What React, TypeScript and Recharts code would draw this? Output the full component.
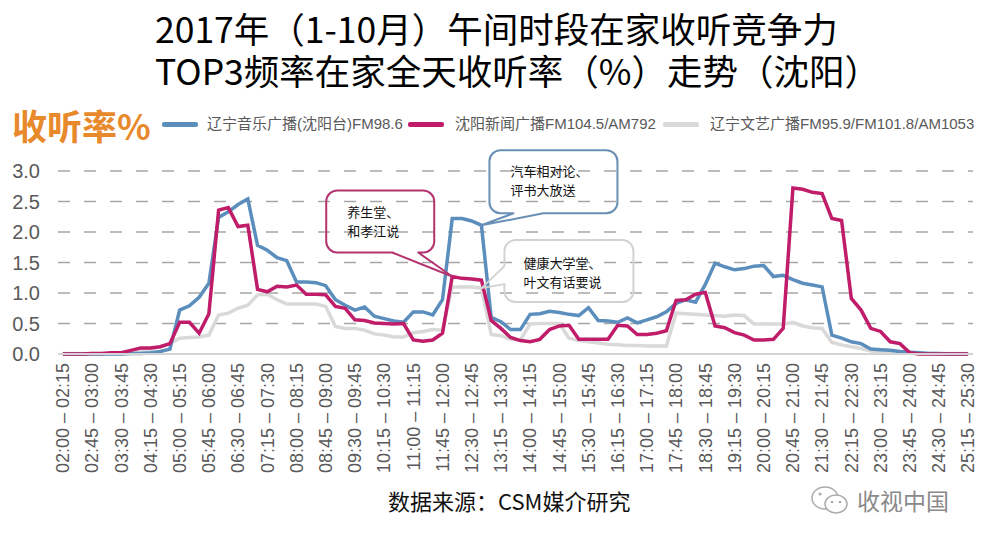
import React from "react";
import {
  LineChart,
  Line,
  XAxis,
  YAxis,
  CartesianGrid,
  ReferenceDot,
} from "recharts";

// quarter-hour slots from 02:00 to 25:30
const pad = (n: number) => (n < 10 ? `0${n}` : `${n}`);
const hhmm = (m: number) => `${pad(Math.floor(m / 60))}:${pad(m % 60)}`;
const slots: string[] = [];
for (let m = 120; m < 120 + 94 * 15; m += 15) {
  slots.push(`${hhmm(m)} – ${hhmm(m + 15)}`);
}

// 辽宁音乐广播(沈阳台)FM98.6
const musicFM = [
  0, 0, 0, 0, 0, 0, 0, 0.01, 0.01, 0.02, 0.04, 0.08,
  0.72, 0.79, 0.93, 1.16, 2.24, 2.33, 2.45, 2.54,
  1.78, 1.7, 1.58, 1.53, 1.18, 1.18, 1.17, 1.12,
  0.89, 0.8, 0.72, 0.77, 0.62, 0.58, 0.54, 0.52,
  0.69, 0.69, 0.64, 0.89, 2.22, 2.22, 2.18, 2.11,
  0.6, 0.53, 0.4, 0.4, 0.65, 0.66, 0.7, 0.68,
  0.65, 0.63, 0.76, 0.55, 0.54, 0.52, 0.59, 0.51,
  0.56, 0.61, 0.69, 0.83, 0.89, 0.85, 1.14, 1.49,
  1.43, 1.38, 1.4, 1.44, 1.45, 1.27, 1.29, 1.22,
  1.16, 1.13, 1.1, 0.31, 0.26, 0.2, 0.17, 0.08,
  0.07, 0.06, 0.04, 0.03, 0.02, 0.01, 0.01, 0, 0, 0,
];

// 沈阳新闻广播FM104.5/AM792
const newsFM = [
  0, 0, 0, 0.01, 0.01, 0.02, 0.02, 0.06, 0.1, 0.1, 0.12, 0.17,
  0.52, 0.52, 0.34, 0.66, 2.36, 2.4, 2.09, 2.11,
  1.06, 1.02, 1.11, 1.1, 1.13, 0.98, 0.98, 0.97,
  0.78, 0.75, 0.56, 0.55, 0.51, 0.5, 0.49, 0.5,
  0.23, 0.21, 0.23, 0.34, 1.27, 1.24, 1.23, 1.21,
  0.55, 0.42, 0.27, 0.22, 0.2, 0.24, 0.4, 0.46,
  0.47, 0.24, 0.24, 0.24, 0.24, 0.47, 0.46, 0.32,
  0.32, 0.34, 0.38, 0.88, 0.89, 0.98, 1.01, 0.46,
  0.43, 0.35, 0.31, 0.23, 0.23, 0.24, 0.42, 2.72,
  2.7, 2.65, 2.63, 2.22, 2.19, 0.91, 0.72, 0.42,
  0.37, 0.2, 0.17, 0.02, 0, 0, 0, 0, 0, 0,
];

// 辽宁文艺广播FM95.9/FM101.8/AM1053
const artsFM = [
  0.01, 0.01, 0.01, 0.01, 0.01, 0.01, 0.01, 0.03, 0.05, 0.08, 0.12, 0.18,
  0.26, 0.27, 0.28, 0.31, 0.64, 0.67, 0.75, 0.8,
  0.97, 0.98, 0.89, 0.82, 0.82, 0.82, 0.82, 0.78,
  0.45, 0.42, 0.42, 0.39, 0.33, 0.31, 0.28, 0.28,
  0.35, 0.37, 0.4, 0.39, 1.1, 1.1, 1.1, 1.08,
  0.32, 0.3, 0.24, 0.23, 0.49, 0.5, 0.5, 0.5,
  0.26, 0.22, 0.2, 0.18, 0.16, 0.15, 0.14, 0.14,
  0.13, 0.13, 0.13, 0.67, 0.66, 0.65, 0.64, 0.63,
  0.62, 0.64, 0.63, 0.49, 0.49, 0.49, 0.49, 0.52,
  0.46, 0.43, 0.42, 0.19, 0.15, 0.12, 0.09, 0.05,
  0.04, 0.03, 0.02, 0.02, 0.01, 0.01, 0.01, 0.01, 0.01, 0.01,
];

const yTicks = [0, 0.5, 1, 1.5, 2, 2.5, 3];

const seriesNames = [
  "辽宁音乐广播(沈阳台)FM98.6",
  "沈阳新闻广播FM104.5/AM792",
  "辽宁文艺广播FM95.9/FM101.8/AM1053",
];

const titleText =
  "2017年（1-10月）午间时段在家收听竞争力\nTOP3频率在家全天收听率（%）走势（沈阳）";

const BLUE = "#5b8ebd";
const PINK = "#c01c6a";
const GRAY = "#d9d9d9";
const FONT_CJK = "'Noto Sans CJK SC', sans-serif";
const FONT_LATIN = "'Liberation Sans', 'Noto Sans CJK SC', sans-serif";

const rows = slots.map((slot, i) => ({
  slot,
  music: musicFM[i],
  news: newsFM[i],
  arts: artsFM[i],
}));

const XTick = (props: any) => {
  const { x, y, payload } = props;
  return (
    <text
      x={x}
      y={y}
      transform={`rotate(-90, ${x}, ${y})`}
      textAnchor="end"
      dy="0.35em"
      fontSize={18}
      fill="#595959"
      fontFamily={FONT_LATIN}
    >
      {payload.value}
    </text>
  );
};

// rounded box with a pointer running to (cx, cy)
function Callout(props: any) {
  const { cx, cy, box, side, b1, b2, color, lines, tx, ty } = props;
  if (cx == null || cy == null) return null;
  const x0 = cx + box[0];
  const x1 = cx + box[1];
  const y0 = cy + box[2];
  const y1 = cy + box[3];
  const r = 11;
  let d = `M${x0 + r},${y0} H${x1 - r} A${r},${r} 0 0 1 ${x1},${y0 + r} V${y1 - r} A${r},${r} 0 0 1 ${x1 - r},${y1}`;
  if (side === "bottom") {
    d += ` H${cx + b2} L${cx},${cy} L${cx + b1},${y1} H${x0 + r} A${r},${r} 0 0 1 ${x0},${y1 - r} V${y0 + r}`;
  } else {
    d += ` H${x0 + r} A${r},${r} 0 0 1 ${x0},${y1 - r} V${cy + b2} L${cx},${cy} L${x0},${cy + b1} V${y0 + r}`;
  }
  d += ` A${r},${r} 0 0 1 ${x0 + r},${y0} Z`;
  return (
    <g>
      <path d={d} fill="none" stroke={color} strokeWidth={2} strokeLinejoin="round" />
      {lines.map((t: string, k: number) => (
        <text
          key={k}
          x={x0 + tx}
          y={y0 + ty + k * 19}
          dominantBaseline="central"
          fontSize={13}
          fill="#111"
          fontFamily={FONT_CJK}
        >
          {t}
        </text>
      ))}
    </g>
  );
}

const legendItems = [
  { name: seriesNames[0], color: BLUE, line: 162, text: 207 },
  { name: seriesNames[1], color: PINK, line: 408, text: 455 },
  { name: seriesNames[2], color: GRAY, line: 663, text: 710 },
];

export default function App() {
  return (
    <div
      style={{
        position: "absolute",
        left: 0,
        top: 0,
        width: 981,
        height: 545,
        background: "#fff",
        overflow: "hidden",
      }}
    >
      <div
        style={{
          position: "absolute",
          left: 155,
          top: 7,
          fontFamily: FONT_CJK,
          fontSize: 35.5,
          lineHeight: "42px",
          color: "#000",
          whiteSpace: "pre",
        }}
      >
        {titleText}
      </div>

      <div
        style={{
          position: "absolute",
          left: 12,
          top: 104,
          fontFamily: FONT_CJK,
          fontWeight: 700,
          fontSize: 35,
          lineHeight: "42px",
          color: "#e8892b",
          whiteSpace: "nowrap",
        }}
      >
        收听率%
      </div>

      {legendItems.map((it) => (
        <React.Fragment key={it.name}>
          <div
            style={{
              position: "absolute",
              left: it.line,
              top: 122,
              width: 36,
              height: 5,
              borderRadius: 2,
              background: it.color,
            }}
          />
          <div
            style={{
              position: "absolute",
              left: it.text,
              top: 114,
              fontFamily: FONT_LATIN,
              fontSize: 15,
              lineHeight: "20px",
              color: "#595959",
              whiteSpace: "nowrap",
            }}
          >
            {it.name}
          </div>
        </React.Fragment>
      ))}

      <LineChart
        width={981}
        height={545}
        data={rows}
        margin={{ top: 171, right: 8, left: 8, bottom: 71 }}
        style={{ position: "absolute", left: 0, top: 0 }}
      >
        <CartesianGrid
          vertical={false}
          stroke="#a6a6a6"
          strokeWidth={1.5}
          strokeDasharray="12 14"
        />
        <XAxis
          dataKey="slot"
          interval={2}
          height={120}
          padding={{ left: 4.87, right: 4.87 }}
          tickLine={false}
          tickMargin={3}
          axisLine={{ stroke: "#d4d4d4", strokeWidth: 2 }}
          tick={<XTick />}
        />
        <YAxis
          width={50}
          domain={[0, 3]}
          ticks={yTicks}
          tickFormatter={(v: number) => v.toFixed(1)}
          axisLine={false}
          tickLine={false}
          tickMargin={12}
          tick={{ fontSize: 20, fill: "#595959", fontFamily: FONT_LATIN }}
        />
        <Line
          dataKey="arts"
          name={seriesNames[2]}
          stroke={GRAY}
          strokeWidth={3.5}
          dot={false}
          type="linear"
          isAnimationActive={false}
        />
        <Line
          dataKey="music"
          name={seriesNames[0]}
          stroke={BLUE}
          strokeWidth={3.5}
          dot={false}
          type="linear"
          isAnimationActive={false}
        />
        <Line
          dataKey="news"
          name={seriesNames[1]}
          stroke={PINK}
          strokeWidth={3.5}
          dot={false}
          type="linear"
          isAnimationActive={false}
        />
        <ReferenceDot
          x={slots[40]}
          y={newsFM[40]}
          ifOverflow="visible"
          shape={(p: any) => (
            <Callout
              cx={p.cx}
              cy={p.cy}
              box={[-126, -18, -86, -24]}
              side="bottom"
              b1={-60}
              b2={-34}
              color="#b3346f"
              lines={["养生堂、", "和孝江说"]}
              tx={21}
              ty={21}
            />
          )}
        />
        <ReferenceDot
          x={slots[43]}
          y={musicFM[43]}
          ifOverflow="visible"
          shape={(p: any) => (
            <Callout
              cx={p.cx}
              cy={p.cy}
              box={[8, 136, -75, -12]}
              side="bottom"
              b1={32}
              b2={62}
              color="#6a8fb5"
              lines={["汽车相对论、", "评书大放送"]}
              tx={21}
              ty={20}
            />
          )}
        />
        <ReferenceDot
          x={slots[43]}
          y={artsFM[43]}
          ifOverflow="visible"
          shape={(p: any) => (
            <Callout
              cx={p.cx}
              cy={p.cy}
              box={[23, 152, -48, 14]}
              side="left"
              b1={-22}
              b2={-4}
              color="#d2d2d2"
              lines={["健康大学堂、", "叶文有话要说"]}
              tx={19}
              ty={22}
            />
          )}
        />
      </LineChart>

      <div
        style={{
          position: "absolute",
          left: 388,
          top: 487,
          fontFamily: FONT_CJK,
          fontSize: 22,
          lineHeight: "26px",
          color: "#111",
          whiteSpace: "nowrap",
        }}
      >
        数据来源：CSM媒介研究
      </div>

      <svg
        width={42}
        height={34}
        style={{ position: "absolute", left: 810, top: 484 }}
      >
        <ellipse cx={15} cy={14} rx={13} ry={11} fill="none" stroke="#aaa" strokeWidth={1.5} />
        <ellipse cx={26} cy={20} rx={11} ry={9} fill="#fff" stroke="#aaa" strokeWidth={1.5} />
        <circle cx={10} cy={10} r={1.5} fill="#aaa" />
        <circle cx={22} cy={18} r={1.3} fill="#aaa" />
        <circle cx={30} cy={18} r={1.3} fill="#aaa" />
      </svg>
      <div
        style={{
          position: "absolute",
          left: 857,
          top: 485,
          fontFamily: FONT_CJK,
          fontSize: 23,
          lineHeight: "30px",
          color: "#8a8a8a",
          whiteSpace: "nowrap",
        }}
      >
        收视中国
      </div>
    </div>
  );
}
